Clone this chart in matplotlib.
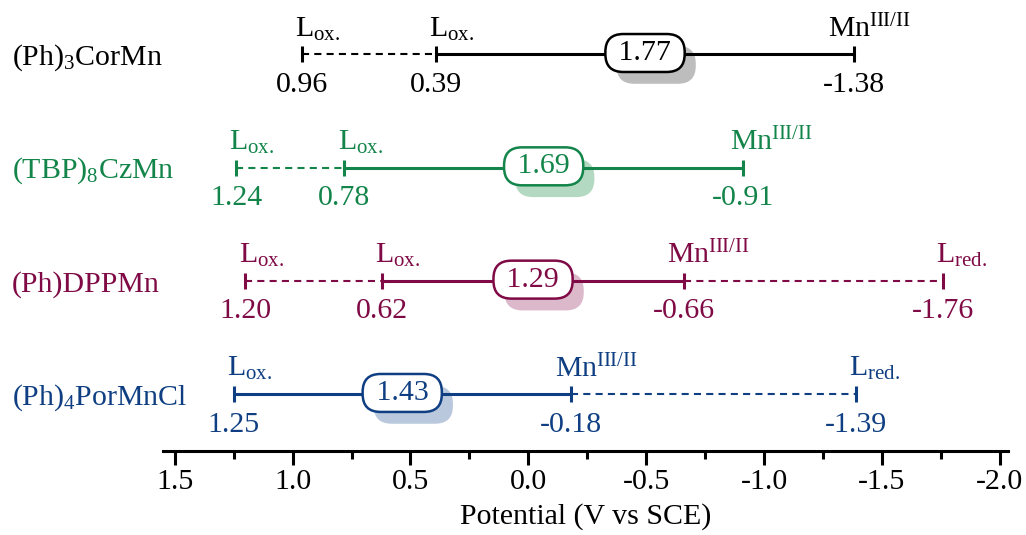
import matplotlib
matplotlib.use('Agg')
import matplotlib.pyplot as plt
from matplotlib.ticker import MultipleLocator, FormatStrFormatter

plt.rcParams['font.family'] = ['Liberation Serif', 'DejaVu Serif']
plt.rcParams['mathtext.fontset'] = 'custom'
plt.rcParams['mathtext.rm'] = 'Liberation Serif'
plt.rcParams['mathtext.it'] = 'Liberation Serif:italic'
plt.rcParams['mathtext.bf'] = 'Liberation Serif:bold'
plt.rcParams['axes.unicode_minus'] = False

# ---------------- data ----------------
compounds = [r"(Ph)$_\mathrm{3}$CorMn", r"(TBP)$_\mathrm{8}$CzMn",
             "(Ph)DPPMn", r"(Ph)$_\mathrm{4}$PorMnCl"]
colors = ['#000000', '#13854a', '#7f0a45', '#0f3f82']
shadow_colors = ['#bdbdbd', '#b3d9c3', '#dcb9ca', '#b9c8dc']
potentials = [
    [0.96, 0.39, -1.38],
    [1.24, 0.78, -0.91],
    [1.20, 0.62, -0.66, -1.76],
    [1.25, -0.18, -1.39],
]
point_labels = [
    ['ox', 'ox', 'mn'],
    ['ox', 'ox', 'mn'],
    ['ox', 'ox', 'mn', 'red'],
    ['ox', 'mn', 'red'],
]
segment_styles = [
    ['dash', 'solid'],
    ['dash', 'solid'],
    ['dash', 'solid', 'dash'],
    ['solid', 'dash'],
]
gaps = [1.77, 1.69, 1.29, 1.43]
xticks_major = 0.5
xticks_minor = 0.25
xlabel = "Potential (V vs SCE)"

label_text = {'ox': r"L$_\mathrm{ox.}$", 'red': r"L$_\mathrm{red.}$",
              'mn': r"Mn$^\mathrm{III/II}$"}
# horizontal offsets (points) of the labels above the ticks (style only)
L_dx = -5
mn_dx = [-18.5, -9.5, -12.5, -11.5]

FS = 21.5
fig = plt.figure(figsize=(10.26, 5.35), dpi=100)
ax = fig.add_axes([163/1026, 84/535, 845/1026, 451/535])
ax.set_xlim(1.55, -2.035)
ax.set_ylim(0, 3.98)

nrows = len(compounds)
for i in range(nrows):
    y = nrows - i - 0.5
    col = colors[i]
    pts = potentials[i]
    for j, st in enumerate(segment_styles[i]):
        if st == 'solid':
            ax.plot([pts[j], pts[j+1]], [y, y], color=col, lw=2.2,
                    solid_capstyle='butt', zorder=3)
            mid = (pts[j] + pts[j+1]) / 2
            txt = " %.2f " % gaps[i]
            bstyle = "round,pad=0.2,rounding_size=0.6"
            ax.annotate(txt, xy=(mid, y), xytext=(8, -7.5), textcoords='offset points',
                        ha='center', va='center', fontsize=FS, color=(0, 0, 0, 0),
                        bbox=dict(boxstyle=bstyle, fc=shadow_colors[i], ec='none'),
                        zorder=2)
            ax.annotate(txt, xy=(mid, y), xytext=(0, 1), textcoords='offset points',
                        ha='center', va='center', fontsize=FS,
                        color=col,
                        bbox=dict(boxstyle=bstyle, fc='white', ec=col, lw=1.8),
                        zorder=5)
        else:
            ax.plot([pts[j], pts[j+1]], [y, y], color=col, lw=1.5,
                    linestyle=(0, (3.4, 2.5)), zorder=3)
    ax.plot(pts, [y]*len(pts), linestyle='none', marker='|', markersize=11,
            mew=2.2, color=col, zorder=4)
    for v, lab in zip(pts, point_labels[i]):
        dx = mn_dx[i] if lab == 'mn' else L_dx
        dy = 12.5 if lab == 'mn' else 13
        ax.annotate(label_text[lab], xy=(v, y), xytext=(dx, dy),
                    textcoords='offset points', ha='left', va='baseline',
                    fontsize=FS, color=col)
        ax.annotate("%.2f" % v, xy=(v, y), xytext=(0, -12.5),
                    textcoords='offset points', ha='center', va='top',
                    fontsize=FS, color=col)
    ax.annotate(compounds[i], xy=(12/1026, y), xycoords=('figure fraction', 'data'),
                xytext=(0, -7.5), textcoords='offset points',
                ha='left', va='baseline', fontsize=FS, color=col)

for s in ['top', 'left', 'right']:
    ax.spines[s].set_visible(False)
ax.spines['bottom'].set_linewidth(2.2)
ax.set_yticks([])
ax.xaxis.set_major_locator(MultipleLocator(xticks_major))
ax.xaxis.set_minor_locator(MultipleLocator(xticks_minor))
ax.xaxis.set_major_formatter(FormatStrFormatter('%.1f'))
ax.tick_params(axis='x', which='major', length=10, width=2.2, labelsize=FS, pad=3)
ax.tick_params(axis='x', which='minor', length=6, width=2.2)
ax.set_xlabel(xlabel, fontsize=FS, labelpad=6)
ax.patch.set_alpha(0)

fig.savefig('out.png', dpi=100)
